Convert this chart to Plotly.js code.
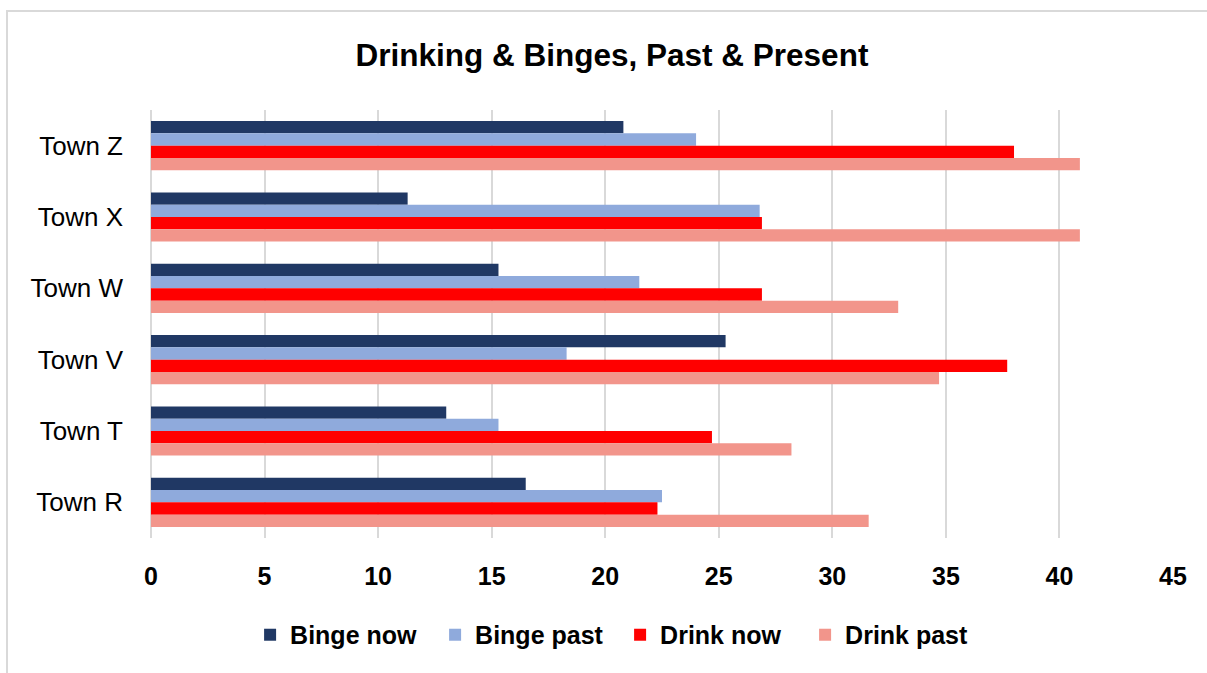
<!DOCTYPE html>
<html>
<head>
<meta charset="utf-8">
<script src="https://cdn.plot.ly/plotly-3.0.1.min.js"></script>
<style>
html,body{margin:0;padding:0;background:#fff;}
#frame{position:absolute;left:6px;top:10px;width:1210px;height:700px;border-top:2px solid #d9d9d9;border-left:2px solid #d9d9d9;pointer-events:none;z-index:5;}
#chart{position:absolute;left:0;top:0;width:1207px;height:673px;}
</style>
</head>
<body>
<div id="chart"></div>
<div id="frame"></div>
<script>
const towns = ["Town Z", "Town X", "Town W", "Town V", "Town T", "Town R"];
const bingeNow  = [20.8, 11.3, 15.3, 25.3, 13.0, 16.5];
const bingePast = [24.0, 26.8, 21.5, 18.3, 15.3, 22.5];
const drinkNow  = [38.0, 26.9, 26.9, 37.7, 24.7, 22.3];
const drinkPast = [40.9, 40.9, 32.9, 34.7, 28.2, 31.6];
const seriesNames = ["Binge now", "Binge past", "Drink now", "Drink past"];
const seriesColors = ["#203864", "#8FAADC", "#FF0000", "#F2958B"];
const seriesValues = [bingeNow, bingePast, drinkNow, drinkPast];

const traces = seriesNames.map((n, i) => ({
  type: "bar",
  orientation: "h",
  name: n,
  y: towns,
  x: seriesValues[i],
  marker: {color: seriesColors[i]},
  hoverinfo: "x+name"
}));

const font = "Liberation Sans, Arial, sans-serif";
const layout = {
  width: 1207, height: 673,
  margin: {l: 151, r: 34, t: 110, b: 135},
  paper_bgcolor: "#fff", plot_bgcolor: "#fff",
  barmode: "group", bargap: 0.31, bargroupgap: 0,
  title: {text: "<b>Drinking &amp; Binges, Past &amp; Present</b>", font: {family: font, size: 31.5, color: "#000"},
          x: 0.507, xanchor: "center", y: 1 - 55/673, yanchor: "middle", yref: "container"},
  xaxis: {range: [0, 45], dtick: 5, tick0: 0, showgrid: true, gridcolor: "#d9d9d9", gridwidth: 2,
          zeroline: true, zerolinecolor: "#d9d9d9", zerolinewidth: 2, showline: false, ticks: "",
          tickfont: {family: font, size: 25, color: "#000", weight: "bold"}, ticklabelstandoff: 21, fixedrange: true},
  yaxis: {autorange: "reversed", showgrid: false, zeroline: false, showline: false, ticks: "",
          tickfont: {family: font, size: 26, color: "#000"}, ticklabelstandoff: 27, fixedrange: true},
  legend: {orientation: "h", x: 0.459, xanchor: "center", y: -0.2266, yanchor: "middle",
           font: {family: font, size: 25, color: "#000", weight: "bold"}, entrywidth: 140, entrywidthmode: "pixels"},
  showlegend: true
};

Plotly.newPlot("chart", traces, layout, {displayModeBar: false, staticPlot: false});
</script>
</body>
</html>
